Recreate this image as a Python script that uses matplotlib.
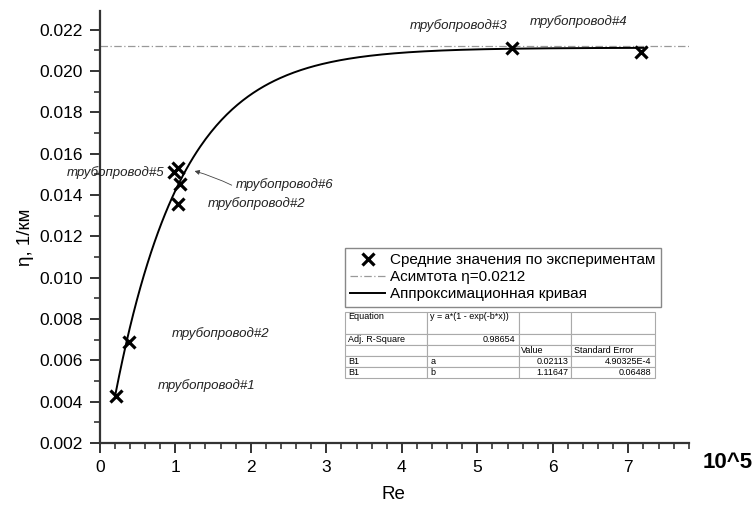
import matplotlib
matplotlib.use("Agg")
import matplotlib.pyplot as plt
import numpy as np

plt.rcParams['font.family'] = ['Liberation Sans', 'DejaVu Sans']

#----Datos----
re = [0.21, 0.39, 0.98, 1.04, 1.06, 1.03, 5.46, 7.17]
eta = [0.0043, 0.0069, 0.0151, 0.0153, 0.01455, 0.01358, 0.02114, 0.0209]
a_fit = 0.02113
b_fit = 1.11647
asimtota = 0.0212

etiquetas = ["трубопровод#5", "трубопровод#6", "трубопровод#2", "трубопровод#2",
             "трубопровод#1", "трубопровод#3", "трубопровод#4"]
pos_etiq = [(0.86, 0.0151), (1.80, 0.0145), (1.43, 0.0136), (0.95, 0.0073),
            (0.77, 0.0048), (4.10, 0.0222), (5.70, 0.0224)]

tabla = [["Equation\n ", "y = a*(1 - exp(-b*x))\n ", "", ""],
         ["Adj. R-Square", "0.98654", "", ""],
         ["", "", "Value", "Standard Error"],
         ["B1", "a", "0.02113", "4.90325E-4"],
         ["B1", "b", "1.11647", "0.06488"]]

#----Graficar----
fig = plt.figure(figsize=(7.56, 5.07), dpi=100)
ax = fig.add_axes([0.132, 0.126, 0.779, 0.852])

x = np.linspace(re[0], 7.2, 300)
ax.axhline(asimtota, color="#999999", lw=0.9, ls=(0, (6, 2, 1, 2)),
           label="Асимтота η=0.0212")
ax.plot(re, eta, "kx", ms=8, mew=2.3, label="Средние значения по экспериментам")
ax.plot(x, a_fit*(1-np.exp(-b_fit*x)), "k-", lw=1.4, label="Аппроксимационная кривая")

ax.set_xlim(0, 7.8)
ax.set_ylim(0.002, 0.0229)
ax.set_xticks(range(0, 8))
ax.set_xticks(np.arange(0, 7.81, 0.2), minor=True)
ax.set_yticks(np.arange(0.002, 0.0221, 0.002))
ax.set_yticks(np.arange(0.002, 0.0229, 0.001), minor=True)
ax.yaxis.set_major_formatter(matplotlib.ticker.FormatStrFormatter("%.3f"))
ax.spines["top"].set_visible(False)
ax.spines["right"].set_visible(False)
for s in ("left", "bottom"):
    ax.spines[s].set_linewidth(1.6)
    ax.spines[s].set_color("#333333")
ax.tick_params(which="major", length=7, width=1.4, labelsize=12.5, color="#333333", pad=5)
ax.tick_params(which="minor", length=4, width=1.2, color="#333333")

fig.text(0.034, 0.532, "η, 1/км", rotation=90, fontsize=13.5, ha="center", va="center")
fig.text(0.521, 0.024, "Re", fontsize=13.5, ha="center", va="center")
fig.text(0.963, 0.088, "10^5", fontsize=16, fontweight="bold", ha="center", va="center")

for t, (px, py) in zip(etiquetas, pos_etiq):
    ha = "right" if t == "трубопровод#5" else "left"
    ax.text(px, py, t, fontsize=9.5, style="italic", ha=ha, va="center", color="#222222")
ax.annotate("", xy=(1.22, 0.0152), xytext=(1.78, 0.01442),
            arrowprops=dict(arrowstyle="-|>", color="#444444", lw=0.6,
                            connectionstyle="arc3,rad=0.05", mutation_scale=7))

# Orden de la leyenda
h, l = ax.get_legend_handles_labels()
orden = [1, 0, 2]
leg = ax.legend([h[i] for i in orden], [l[i] for i in orden],
                loc="upper left", bbox_to_anchor=(0.416, 0.452), fontsize=11,
                frameon=True, fancybox=False, edgecolor="#888888", framealpha=1,
                borderpad=0.35, handlelength=2.3, handletextpad=0.3,
                labelspacing=0.2, borderaxespad=0)
leg.get_frame().set_linewidth(1.0)

tb = ax.table(cellText=tabla, bbox=[0.416, 0.15, 0.526, 0.153],
              colWidths=[82, 92, 52, 84], cellLoc="left")
tb.auto_set_font_size(False)
tb.set_fontsize(6.5)
for (r, c), cell in tb.get_celld().items():
    cell.set_edgecolor("#aaaaaa")
    cell.set_linewidth(0.8)
    cell.set_height(2.0 if r == 0 else 1.0)
    cell.PAD = 0.04
    txt = cell.get_text()
    txt.set_linespacing(1.6)
    if (r == 1 and c == 1) or (r >= 3 and c >= 2):
        txt.set_ha("right")

fig.savefig("out.png", dpi=100)
